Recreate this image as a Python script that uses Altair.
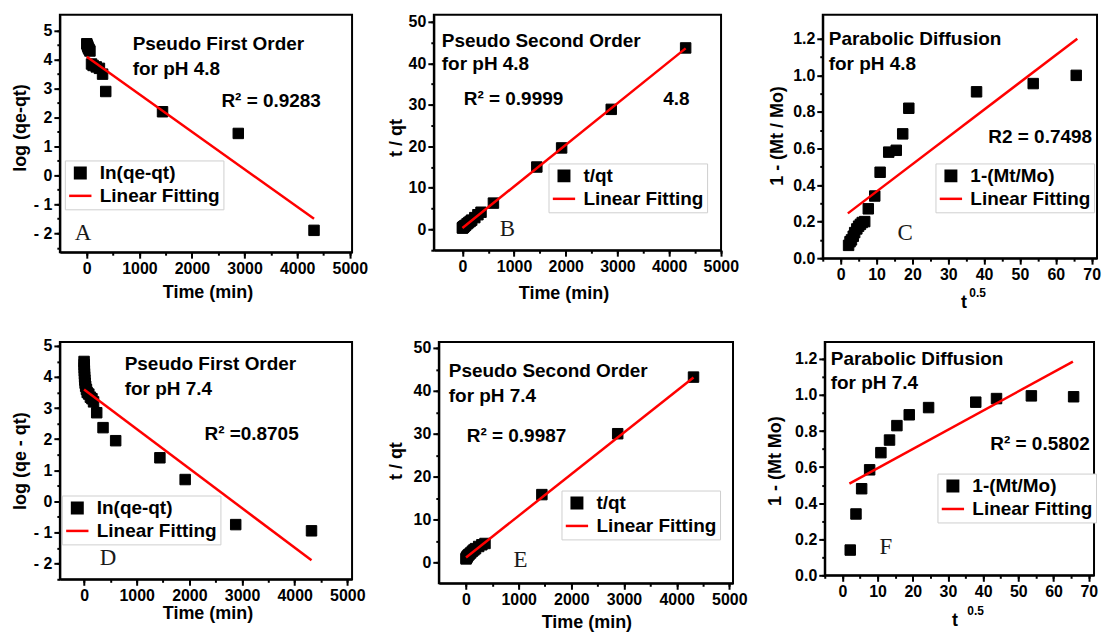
import altair as alt
import pandas as pd

FONT = "Liberation Sans"
SERIF = "Liberation Serif"
FIT = "Linear Fitting"

# ---------------- data ----------------
# A: pseudo first order, pH 4.8
a_t = [0, 10, 20, 30, 45, 60, 90, 120, 180, 240, 300, 360, 1440, 2880, 4320]
a_y = [4.55, 4.5, 4.45, 4.4, 4.35, 4.3, 3.85, 3.8, 3.75, 3.7, 3.5, 2.9, 2.2, 1.45, -1.9]
a_fit_t = [0, 4320]
a_fit_y = [4.1, -1.5]

# B: pseudo second order, pH 4.8
b_t = [0, 5, 10, 15, 20, 30, 45, 60, 90, 120, 150, 180, 240, 300, 360, 600, 1440, 1920, 2880, 4320]
b_y = [0.3, 0.35, 0.4, 0.5, 0.55, 0.65, 0.8, 0.95, 1.3, 1.6, 1.9, 2.2, 2.8, 3.5, 4.1, 6.3, 15.0, 19.6, 28.9, 43.7]
b_fit_t = [0, 4320]
b_fit_y = [0.3, 43.6]

# C: parabolic diffusion, pH 4.8
c_x = [2.2, 2.6, 3.0, 3.5, 3.9, 4.5, 5.0, 5.5, 6.0, 6.7, 7.7, 9.5, 11.0, 13.4, 15.5, 17.3, 19.0, 37.9, 53.7, 65.7]
c_y = [0.07, 0.09, 0.1, 0.12, 0.14, 0.16, 0.175, 0.185, 0.195, 0.2, 0.27, 0.34, 0.47, 0.58, 0.59, 0.68, 0.82, 0.91, 0.955, 1.0]
c_fit_x = [2, 66]
c_fit_y = [0.245, 1.2]

# D: pseudo first order, pH 7.4
d_t = [0, 2, 4, 6, 8, 10, 15, 20, 30, 45, 60, 90, 120, 150, 180, 240, 360, 600, 1440, 1920, 2880, 4320]
d_y = [4.5, 4.4, 4.3, 4.2, 4.1, 4.0, 3.9, 3.8, 3.7, 3.6, 3.5, 3.45, 3.35, 3.3, 3.2, 2.85, 2.37, 1.95, 1.4, 0.7, -0.75, -0.95]
d_fit_t = [0, 4320]
d_fit_y = [3.6, -1.9]

# E: pseudo second order, pH 7.4
e_t = [0, 5, 10, 15, 20, 30, 45, 60, 90, 120, 150, 180, 240, 300, 360, 1440, 2880, 4320]
e_y = [0.8, 1.0, 1.1, 1.2, 1.3, 1.5, 1.7, 1.9, 2.2, 2.6, 2.9, 3.2, 3.7, 4.1, 4.4, 15.8, 30.0, 43.2]
e_fit_t = [0, 4320]
e_fit_y = [1.15, 43.1]

# F: parabolic diffusion, pH 7.4
f_x = [2.24, 3.87, 5.48, 7.75, 10.95, 13.4, 15.5, 19.0, 24.5, 37.9, 43.8, 53.7, 65.7]
f_y = [0.14, 0.34, 0.48, 0.585, 0.68, 0.75, 0.83, 0.89, 0.93, 0.96, 0.98, 0.995, 0.99]
f_fit_x = [2, 65.5]
f_fit_y = [0.508, 1.185]

time_ticks = [0, 1000, 2000, 3000, 4000, 5000]
time_minor = [0, 500, 1000, 1500, 2000, 2500, 3000, 3500, 4000, 4500, 5000]
log_ticks = [-2, -1, 0, 1, 2, 3, 4, 5]
log_minor = [-2.5, -2, -1.5, -1, -0.5, 0, 0.5, 1, 1.5, 2, 2.5, 3, 3.5, 4, 4.5, 5]
tq_ticks = [0, 10, 20, 30, 40, 50]
tq_minor = [-5, 0, 5, 10, 15, 20, 25, 30, 35, 40, 45, 50]
sq_ticks = [0, 10, 20, 30, 40, 50, 60, 70]
sq_minor = [-5, 0, 5, 10, 15, 20, 25, 30, 35, 40, 45, 50, 55, 60, 65, 70]
frac_ticks = [0.0, 0.2, 0.4, 0.6, 0.8, 1.0, 1.2]
frac_minor = [0.0, 0.1, 0.2, 0.3, 0.4, 0.5, 0.6, 0.7, 0.8, 0.9, 1.0, 1.1, 1.2]

NEG_EXPR = "datum.value < 0 ? '- ' + abs(datum.value) : datum.label"


def txt(s, x, y, size=19, font=FONT, weight="bold", color="black"):
    return alt.Chart(pd.DataFrame({"t": [s]})).mark_text(
        align="left", baseline="middle", font=font, fontSize=size,
        fontWeight=weight, color=color
    ).encode(x=alt.value(x), y=alt.value(y), text="t:N")


def letter(s, x, y):
    return txt(s, x, y, size=23, font=SERIF, weight="normal", color="#1a1a1a")


def panel(px, py, fx, fy, label, xdom, ydom, xvals, xminor, yvals, yminor,
          w, h, xtitle, xtpos, ytitle, ytpos, legpos, texts, yfmt=None, yexpr=None):
    pts = pd.DataFrame({"x": px, "y": py, "s": label})
    fit = pd.DataFrame({"x": fx, "y": fy})
    xs = alt.Scale(domain=xdom, nice=False, zero=False)
    ys = alt.Scale(domain=ydom, nice=False, zero=False)
    dom = [label, FIT]
    leg = alt.Legend(
        orient="none", legendX=legpos[0], legendY=legpos[1], title=None,
        strokeColor="#cfcfcf", fillColor="white", padding=3, rowPadding=0,
        labelFont=FONT, labelFontSize=19, labelFontWeight="bold", labelColor="black",
        labelOffset=7, symbolStrokeWidth=2.5,
    )
    yaxis_kw = dict(values=yvals, title=ytitle, titleX=ytpos[0], titleY=ytpos[1],
                    titleBaseline="middle", titleAlign="center", titleAngle=270,
                    labelOverlap=False, labelFlush=False)
    if yfmt:
        yaxis_kw["format"] = yfmt
    if yexpr:
        yaxis_kw["labelExpr"] = yexpr
    points = alt.Chart(pts).mark_point(filled=True, opacity=1, strokeWidth=1).encode(
        x=alt.X("x:Q", scale=xs, axis=alt.Axis(values=xvals, format="d", title=xtitle,
                                               titleX=xtpos[0], titleY=xtpos[1],
                                               titleBaseline="middle", titleAlign="center",
                                               labelOverlap=False, labelFlush=False)),
        y=alt.Y("y:Q", scale=ys, axis=alt.Axis(**yaxis_kw)),
        color=alt.Color("s:N", scale=alt.Scale(domain=dom, range=["black", "red"]), legend=leg),
        stroke=alt.Stroke("s:N", scale=alt.Scale(domain=dom, range=["black", "red"]), legend=leg),
        shape=alt.Shape("s:N", scale=alt.Scale(domain=dom, range=["square", "stroke"]), legend=leg),
        size=alt.Size("s:N", scale=alt.Scale(domain=dom, range=[110, 500]), legend=leg),
    )
    line = alt.Chart(fit).mark_line(color="red", strokeWidth=2.5).encode(
        x=alt.X("x:Q", scale=xs, axis=alt.Axis(values=xminor, labels=False, title=None,
                                               domain=False, tickSize=3, orient="bottom")),
        y=alt.Y("y:Q", scale=ys, axis=alt.Axis(values=yminor, labels=False, title=None,
                                               domain=False, tickSize=3, orient="left")),
    )
    layers = [points, line] + texts
    return alt.layer(*layers).resolve_axis(x="independent", y="independent").properties(
        width=w, height=h)


# row 1: plot tops at y=14
A = panel(a_t, a_y, a_fit_t, a_fit_y, "In(qe-qt)", [-512, 5043], [-2.655, 5.55],
          time_ticks, time_minor, log_ticks, log_minor, 293, 238,
          "Time (min)", (148, 40), "log (qe-qt)", (-39, 113), (5, 146),
          [txt("Pseudo First Order", 73, 29), txt("for pH 4.8", 73, 54),
           txt("R² = 0.9283", 162, 86), letter("A", 15, 219)],
          yexpr=NEG_EXPR)

B = panel(b_t, b_y, b_fit_t, b_fit_y, "t/qt", [-553, 5005], [-5.05, 51.68],
          time_ticks, time_minor, tq_ticks, tq_minor, 288, 236,
          "Time (min)", (130, 43), "t / qt", (-37, 123), (115, 149),
          [txt("Pseudo Second Order", 8, 26), txt("for  pH 4.8", 8, 49),
           txt("R² = 0.9999", 30, 84), txt("4.8", 230, 84), letter("B", 66, 215)])

C = panel(c_x, c_y, c_fit_x, c_fit_y, "1-(Mt/Mo)", [-5, 71.5], [0, 1.331],
          sq_ticks, sq_minor, frac_ticks, frac_minor, 275, 244,
          "t", (141, 44), "1 - (Mt / Mo)", (-45, 121), (113, 149),
          [txt("Parabolic Diffusion", 6, 24), txt("for pH 4.8", 6, 49),
           txt("R2 = 0.7498", 166, 123), letter("C", 75, 219),
           txt("0.5", 147, 279, size=12)],
          yfmt=".1f")

# row 2: plot tops at y=341
D = panel(d_t, d_y, d_fit_t, d_fit_y, "In(qe-qt)", [-460, 5090], [-2.51, 5.128],
          time_ticks, time_minor, log_ticks, log_minor, 293, 238,
          "Time (min)", (148, 34), "log (qe - qt)", (-39, 119), (2, 154),
          [txt("Pseudo First Order", 65, 22), txt("for pH 7.4", 65, 47),
           txt("R² =0.8705", 145, 92), letter("D", 40, 217)],
          yexpr=NEG_EXPR)

E = panel(e_t, e_y, e_fit_t, e_fit_y, "t/qt", [-517, 5070], [-4.88, 51.4],
          time_ticks, time_minor, tq_ticks, tq_minor, 295, 242,
          "Time (min)", (148, 39), "t / qt", (-42, 119), (123, 149),
          [txt("Pseudo Second Order", 10, 29), txt("for pH 7.4", 10, 54),
           txt("R² = 0.9987", 28, 94), letter("E", 75, 219)])

F = panel(f_x, f_y, f_fit_x, f_fit_y, "1-(Mt/Mo)", [-5, 71.5], [0, 1.294],
          sq_ticks, sq_minor, frac_ticks, frac_minor, 270, 234,
          "t", (130, 45), "1 - (Mt Mo)", (-49, 119), (113, 132),
          [txt("Parabolic Diffusion", 6, 17), txt("for  pH 7.4", 6, 41),
           txt("R² = 0.5802", 166, 102), letter("F", 55, 206),
           txt("0.5", 143, 270, size=12)],
          yfmt=".1f")

IND = dict(x="independent", y="independent", color="independent", stroke="independent",
           shape="independent", size="independent")

row1 = alt.hconcat(
    alt.hconcat(A, B, spacing=18).resolve_scale(**IND),
    C, spacing=28).resolve_scale(**IND)
row2 = alt.hconcat(
    alt.hconcat(D, E, spacing=20).resolve_scale(**IND),
    F, spacing=17).resolve_scale(**IND)

chart = alt.vconcat(row1, row2, spacing=24).resolve_scale(**IND).properties(
    padding={"left": 3, "top": 3, "right": 0, "bottom": 0},
    background="white",
).configure_view(
    stroke="black", strokeWidth=2
).configure_axis(
    domainColor="black", domainWidth=2, tickColor="black", tickWidth=2, tickSize=6,
    labelFont=FONT, labelFontSize=16, labelFontWeight="bold", labelColor="black",
    labelPadding=2, titleFont=FONT, titleFontSize=18, titleFontWeight="bold",
    titleColor="black", grid=False,
)

chart.save("out.html", embed_options={"renderer": "svg", "actions": False})
